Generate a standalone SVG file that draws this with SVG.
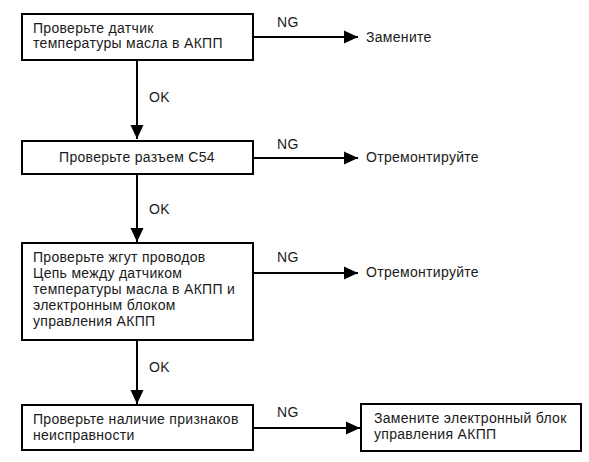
<svg xmlns="http://www.w3.org/2000/svg" width="589" height="462" viewBox="0 0 589 462">
<style>
.box{fill:#fff;stroke:#000;stroke-width:2}
.t{font-family:"Liberation Sans",Arial,sans-serif;font-size:14px;letter-spacing:0.3px;fill:#1a1a1a}
.c{fill:none;stroke:#000;stroke-width:2}
</style>
<defs>
<marker id="ah" markerUnits="userSpaceOnUse" markerWidth="16" markerHeight="16" viewBox="0 0 16 16" refX="15" refY="8" orient="auto">
<path d="M1,1.5 L15,8 L1,14.5 Z" fill="#000"/>
</marker>
</defs>
<rect width="589" height="462" fill="#fff"/>
<g id="connectors">
<line class="c" x1="137" y1="60" x2="137" y2="139" marker-end="url(#ah)"/>
<line class="c" x1="137" y1="175" x2="137" y2="242" marker-end="url(#ah)"/>
<line class="c" x1="137" y1="340" x2="137" y2="404" marker-end="url(#ah)"/>
<line class="c" x1="253" y1="37" x2="358" y2="37" marker-end="url(#ah)"/>
<line class="c" x1="253" y1="158" x2="358" y2="158" marker-end="url(#ah)"/>
<line class="c" x1="253" y1="273" x2="358" y2="273" marker-end="url(#ah)"/>
<line class="c" x1="254" y1="428" x2="360" y2="428" marker-end="url(#ah)"/>
<text class="t" x="149" y="102">OK</text>
<text class="t" x="149" y="214">OK</text>
<text class="t" x="149" y="372">OK</text>
<text class="t" x="277" y="27">NG</text>
<text class="t" x="277" y="149">NG</text>
<text class="t" x="277" y="262">NG</text>
<text class="t" x="277" y="417">NG</text>
</g>
<g id="n1">
<rect class="box" x="22" y="14" width="231" height="46"/>
<text class="t" x="33" y="33">Проверьте датчик</text>
<text class="t" x="33" y="48">температуры масла в АКПП</text>
</g>
<g id="r1"><text class="t" x="366" y="42">Замените</text></g>
<g id="n2">
<rect class="box" x="22" y="141" width="231" height="33"/>
<text class="t" x="137" y="162" text-anchor="middle">Проверьте разъем С54</text>
</g>
<g id="r2"><text class="t" x="366" y="162">Отремонтируйте</text></g>
<g id="n3">
<rect class="box" x="22" y="243" width="231" height="97"/>
<text class="t" x="33" y="262">Проверьте жгут проводов</text>
<text class="t" x="33" y="278">Цепь между датчиком</text>
<text class="t" x="33" y="294">температуры масла в АКПП и</text>
<text class="t" x="33" y="310">электронным блоком</text>
<text class="t" x="33" y="326">управления АКПП</text>
</g>
<g id="r3"><text class="t" x="366" y="277">Отремонтируйте</text></g>
<g id="n4">
<rect class="box" x="22" y="405" width="231" height="45"/>
<text class="t" x="33" y="424">Проверьте наличие признаков</text>
<text class="t" x="33" y="440">неисправности</text>
</g>
<g id="n5">
<rect class="box" x="361" y="404" width="220" height="47"/>
<text class="t" x="374" y="423">Замените электронный блок</text>
<text class="t" x="374" y="439">управления АКПП</text>
</g>
</svg>
